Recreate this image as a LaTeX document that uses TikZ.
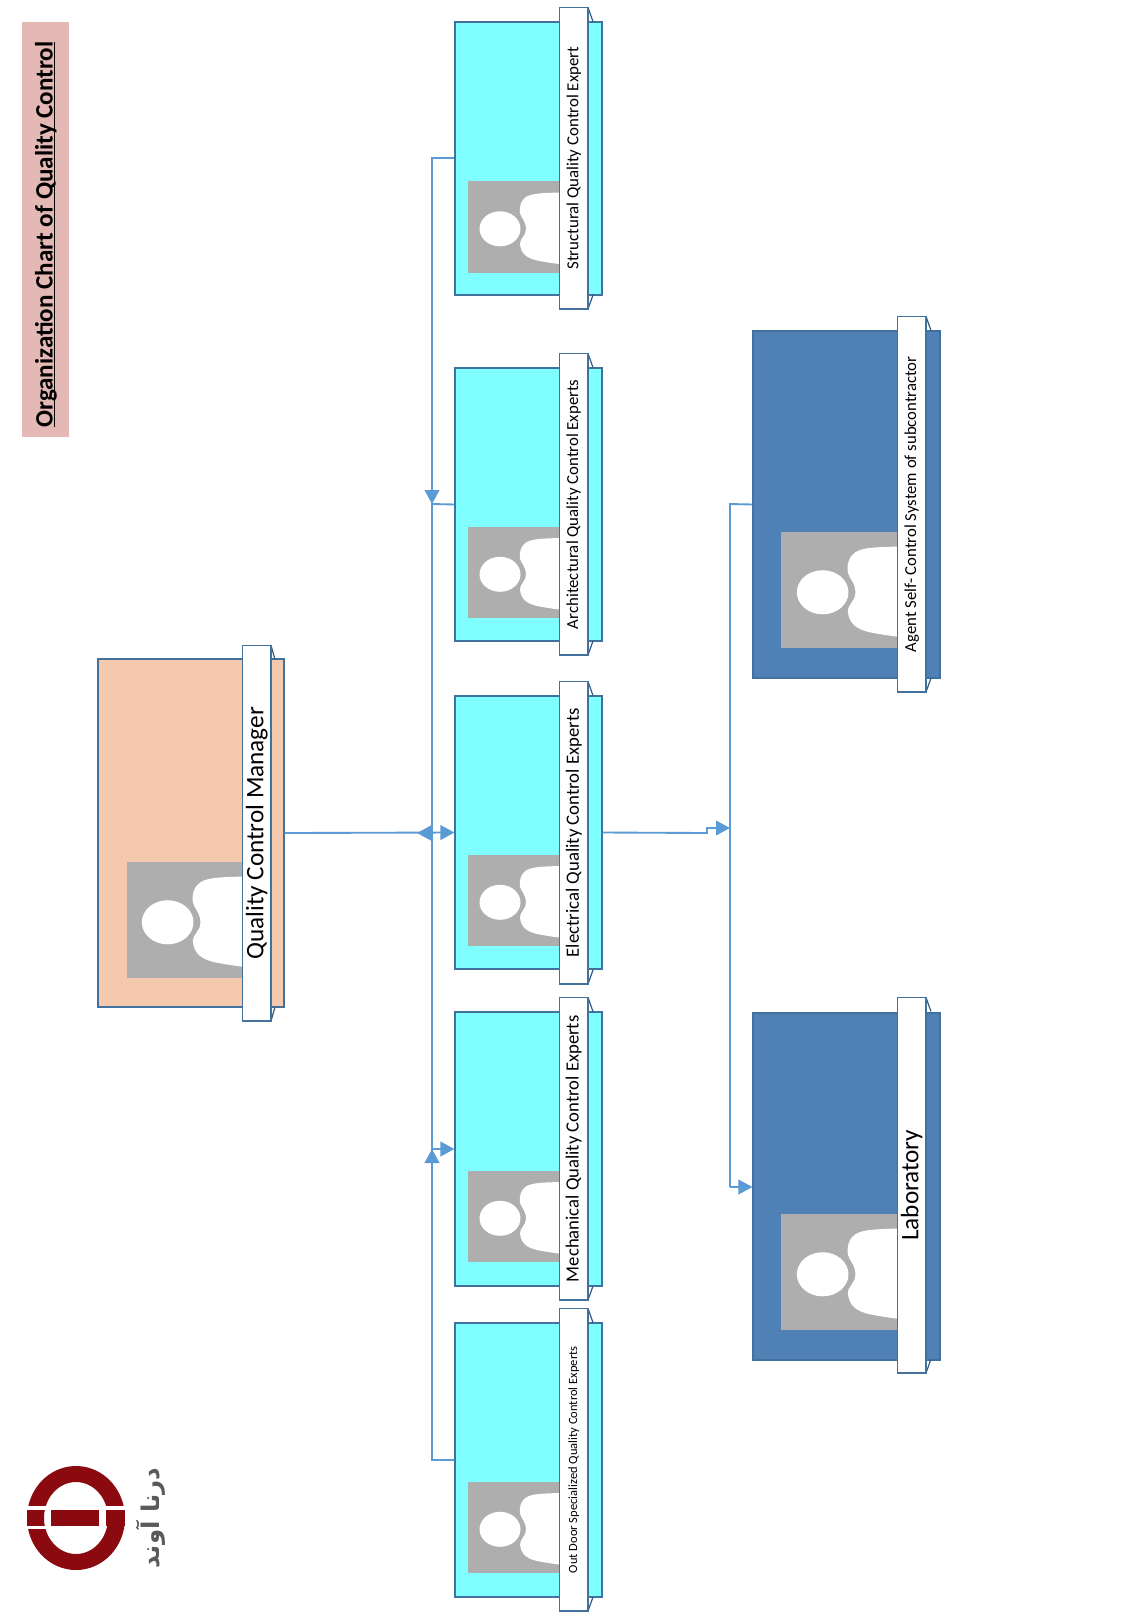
\documentclass[tikz,border=0pt]{standalone}
\usepackage{fontspec}
\setmainfont{Carlito}
\newfontfamily\arabicfont[Script=Arabic]{DejaVu Sans}
\TeXXeTstate=1
\usetikzlibrary{arrows.meta}
\definecolor{cardcyan}{HTML}{7FFFFF}
\definecolor{cardpeach}{HTML}{F5C9AD}
\definecolor{cardblue}{HTML}{4F81B7}
\definecolor{edgeblue}{HTML}{41719C}
\definecolor{linkblue}{HTML}{5B9BD5}
\definecolor{photogray}{HTML}{AEAEAE}
\definecolor{titlepink}{HTML}{E3B8B5}
\definecolor{logored}{HTML}{8B0A0F}
\definecolor{logogray}{HTML}{5A5A5A}
\tikzset{
 x=0.75pt,y=-0.75pt,
 cardbox/.style={draw=edgeblue,line width=0.9pt,inner sep=0pt,anchor=center},
 ribbonbox/.style={draw=edgeblue,line width=0.9pt,fill=white,rotate=90,inner sep=0pt,anchor=center,align=center,text=black},
 foldline/.style={draw=edgeblue!80!black,line width=0.9pt},
 link/.style={draw=linkblue,line width=1.4pt},
 tip/.style={-{Triangle[length=10.5pt,width=11pt]}},
}
\newcommand\orgcard[6]{%
 \node[cardbox,fill=#2,minimum width={(#5-#3)*0.75pt},minimum height={(#6-#4)*0.75pt}] (#1) at ({(#3+#5)/2},{(#4+#6)/2}) {};
}
\newcommand\orgphoto[5]{% x1 y1 x2 y2 scale
 \fill[photogray] (#1,#2) rectangle (#3,#4);
 \begin{scope}[shift={(#3,{(#2+#4)/2})},x=#5*0.75pt,y=-#5*0.75pt]
  \fill[white] (-59,1.8) ellipse [x radius=20.5,y radius=17.5];
  \fill[white] (0,-34.5) .. controls (-14,-34) and (-27,-34) .. (-33,-30)
    .. controls (-38,-27) and (-40,-20) .. (-39,-14)
    .. controls (-38,-9) and (-33,-6) .. (-33,2)
    .. controls (-33,9) and (-39,11) .. (-39,17)
    .. controls (-38,27) and (-32,31) .. (-22,33.5)
    .. controls (-14,35) and (-8,36) .. (0,37) -- cycle;
 \end{scope}
}
\newcommand\orgribbon[7]{% name x1 y1 x2 y2 foldx {font+text}
 \draw[foldline] (#4,#3) -- (#6,{#3+14});
 \draw[foldline] (#4,#5) -- (#6,{#5-14});
 \node[ribbonbox,minimum width={(#5-#3)*0.75pt},minimum height={(#4-#2)*0.75pt}] (#1) at ({(#2+#4)/2},{(#3+#5)/2}) {#7};
}
\begin{document}
\begin{tikzpicture}
\useasboundingbox (0,0) rectangle (1125,1621);
\fill[white] (0,0) rectangle (1125,1621);

% title
\node[fill=titlepink,inner sep=0pt,minimum width=415*0.75pt,minimum height=47*0.75pt,rotate=90,font=\fontsize{18.8pt}{20pt}\selectfont\bfseries] (title) at (45.5,229.5) {\smash{\raisebox{-5.4pt}{\underline{\smash{Organization Chart of Quality Control}}}}\hspace*{7.5pt}};

% connector points
\coordinate (trunkTop) at (432,158);
\coordinate (trunkBot) at (432,1460);
\coordinate (trunkArch) at (432,504);
\coordinate (trunkMech) at (432,1149);
\coordinate (rTop) at (730,504);
\coordinate (rLab) at (730,1187);
\coordinate (rMid) at (730,828);
\coordinate (midHead) at (417,833);
\coordinate (midTail) at (432,833);
\coordinate (stepA) at (707,833);
\coordinate (stepB) at (707,828);

% cards
\orgcard{structural}{cardcyan}{455}{22}{602}{295}
\orgcard{architectural}{cardcyan}{455}{368}{602}{641}
\orgcard{electrical}{cardcyan}{455}{696}{602}{969}
\orgcard{mechanical}{cardcyan}{455}{1012}{602}{1286}
\orgcard{outdoor}{cardcyan}{455}{1323}{602}{1597}
\orgcard{manager}{cardpeach}{98}{659}{284}{1007}
\orgcard{agent}{cardblue}{753}{331}{940}{678}
\orgcard{laboratory}{cardblue}{753}{1013}{940}{1360}

\draw[link,tip] (structural.west |- trunkTop) -- (trunkTop) -- (trunkArch);
\draw[link] (architectural.west) -- (trunkArch) -- (trunkBot) -- (outdoor.west);
\draw[link,tip] (trunkBot |- 0,1170) -- (trunkMech);
\draw[link,tip] (trunkMech) -- (mechanical.west);
\draw[link,tip] (manager.east) -- (electrical.west);
\draw[link,tip] (midTail) -- (midHead);
\draw[link,tip] (electrical.east) -- (stepA) -- (stepB) -- (rMid);
\draw[link] (agent.west) -- (rTop) -- (rLab);
\draw[link,tip] (rLab) -- (laboratory.west |- rLab);

% photos
\orgphoto{468}{181}{559}{273}{1}
\orgphoto{468}{527}{559}{618}{1}
\orgphoto{468}{855}{559}{946}{1}
\orgphoto{468}{1171}{559}{1262}{1}
\orgphoto{468}{1482}{559}{1573}{1}
\orgphoto{127}{862}{242}{978}{1.26}
\orgphoto{781}{532}{897}{648}{1.26}
\orgphoto{781}{1214}{897}{1330}{1.26}

% ribbons
\orgribbon{structuralR}{559.5}{7.5}{588}{309}{593}{\fontsize{12.65pt}{15pt}\selectfont Structural Quality Control Expert}
\orgribbon{architecturalR}{559.5}{353.5}{588}{655}{593}{\fontsize{12.6pt}{15pt}\selectfont Architectural Quality Control Experts}
\orgribbon{electricalR}{559.5}{681.5}{588}{984}{593}{\fontsize{14.05pt}{15pt}\selectfont Electrical Quality Control Experts}
\orgribbon{mechanicalR}{559.5}{997.5}{588}{1300}{593}{\fontsize{14pt}{15pt}\selectfont Mechanical Quality Control Experts}
\orgribbon{outdoorR}{559.5}{1308.5}{588}{1611}{593}{\fontsize{9.4pt}{11pt}\selectfont Out Door Specialized Quality Control Experts}
\orgribbon{managerR}{242.5}{645.5}{271}{1021}{275}{\fontsize{18.9pt}{20pt}\selectfont Quality Control Manager}
\orgribbon{agentR}{897.5}{316.5}{926}{692}{931}{\fontsize{12.55pt}{14pt}\selectfont Agent Self- Control System of subcontractor}
\orgribbon{laboratoryR}{897.5}{997.5}{926}{1373}{931}{\fontsize{18.9pt}{20pt}\selectfont Laboratory}

% logo
\fill[logored,even odd rule] (76,1518) ellipse [x radius=49,y radius=52] (76,1518) ellipse [x radius=32,y radius=36];
\fill[white] (24,1506) rectangle (128,1510);
\fill[white] (24,1526) rectangle (106,1529);
\fill[logored] (27,1510) rectangle (44,1526);
\fill[logored] (51,1510) rectangle (99,1526);
\fill[logored] (106,1510) rectangle (125,1526);
\node[rotate=90,text=logogray,inner sep=0pt,font=\arabicfont\bfseries\fontsize{18.3pt}{20pt}\selectfont] (logotext) at (151,1518) {\beginR درنا آوند\endR};
\end{tikzpicture}
\end{document}
